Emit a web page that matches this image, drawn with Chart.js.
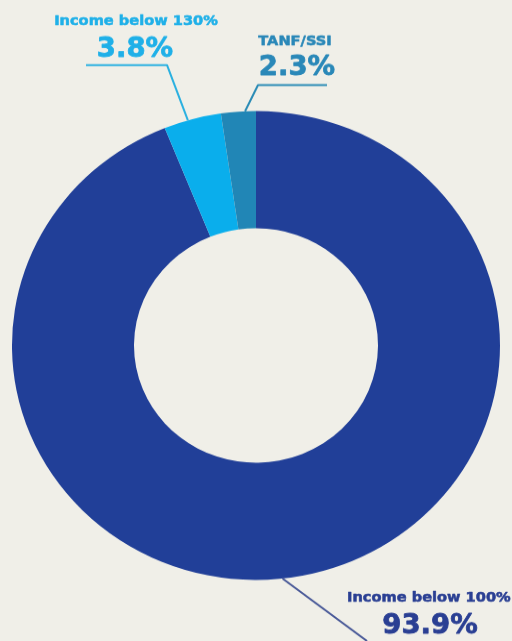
<!DOCTYPE html>
<html>
<head>
<meta charset="utf-8">
<script src="https://cdn.jsdelivr.net/npm/chart.js@4.4.1/dist/chart.umd.min.js"></script>
<style>
  html, body { margin: 0; padding: 0; background: #f0efe8; overflow: hidden; width: 512px; height: 641px; }
  #wrap { position: absolute; left: 0; top: 0; width: 512px; height: 667px; transform: scaleY(0.961); transform-origin: 0 0; }
</style>
</head>
<body>
<div id="wrap"><canvas id="c" width="512" height="667"></canvas></div>
<script>
const categories = ["Income below 100%", "Income below 130%", "TANF/SSI"];
const values = [93.9, 3.8, 2.3];
const valueLabels = ["93.9%", "3.8%", "2.3%"];

const colors = ["#213f98", "#0aaeec", "#2186b6"];
const labelColors = ["#2a3f93", "#1fb0e8", "#2a88b8"];
const lineColors = ["#4a5a98", "#2ab0e0", "#2a8bb5"];
const S = 0.961;

// label layout (screen coords): title position, value center, leader path after anchor
const layout = [
  { align: "left", tx: 347, ty: 602, vx: 430, vy: 633, frac: 0.514, path: [[367, 641]] },
  { align: "center", tx: 136, ty: 25, vx: 135, vy: 57, frac: 0.42, path: [[167, 65], [86, 65]] },
  { align: "center", tx: 295, ty: 45, vx: 297, vy: 75, frac: 0.69, path: [[258, 85], [327, 85]] }
];

const labelPlugin = {
  id: "labels",
  afterDraw(chart) {
    const ctx = chart.ctx;
    const meta = chart.getDatasetMeta(0);
    ctx.save();
    meta.data.forEach((arc, i) => {
      const L = layout[i];
      const a = arc.startAngle + (arc.endAngle - arc.startAngle) * L.frac;
      const ax = arc.x + Math.cos(a) * arc.outerRadius;
      const ay = arc.y + Math.sin(a) * arc.outerRadius;
      ctx.strokeStyle = lineColors[i];
      ctx.lineWidth = 2;
      ctx.beginPath();
      ctx.moveTo(ax, ay);
      L.path.forEach(p => ctx.lineTo(p[0], p[1] / S));
      ctx.stroke();

      ctx.fillStyle = labelColors[i];
      ctx.strokeStyle = labelColors[i];
      ctx.lineJoin = "round";
      ctx.textBaseline = "alphabetic";
      ctx.font = "bold 14.6px 'DejaVu Sans'";
      ctx.textAlign = L.align === "left" ? "left" : "center";
      ctx.lineWidth = 0.6;
      ctx.fillText(categories[i], L.tx, L.ty / S);
      ctx.strokeText(categories[i], L.tx, L.ty / S);
      ctx.textAlign = "center";
      ctx.font = "bold 27.5px 'DejaVu Sans'";
      ctx.lineWidth = 0.8;
      ctx.fillText(valueLabels[i], L.vx, L.vy / S);
      ctx.strokeText(valueLabels[i], L.vx, L.vy / S);
    });
    ctx.restore();
  }
};

new Chart(document.getElementById("c"), {
  type: "doughnut",
  data: {
    labels: categories,
    datasets: [{
      data: values,
      backgroundColor: colors,
      borderWidth: 0,
      hoverOffset: 0
    }]
  },
  options: {
    responsive: false,
    animation: false,
    cutout: "50%",
    layout: { padding: { left: 12, right: 12, top: 115.5, bottom: 63.5 } },
    plugins: { legend: { display: false }, tooltip: { enabled: false } },
    events: []
  },
  plugins: [labelPlugin]
});
</script>
</body>
</html>
